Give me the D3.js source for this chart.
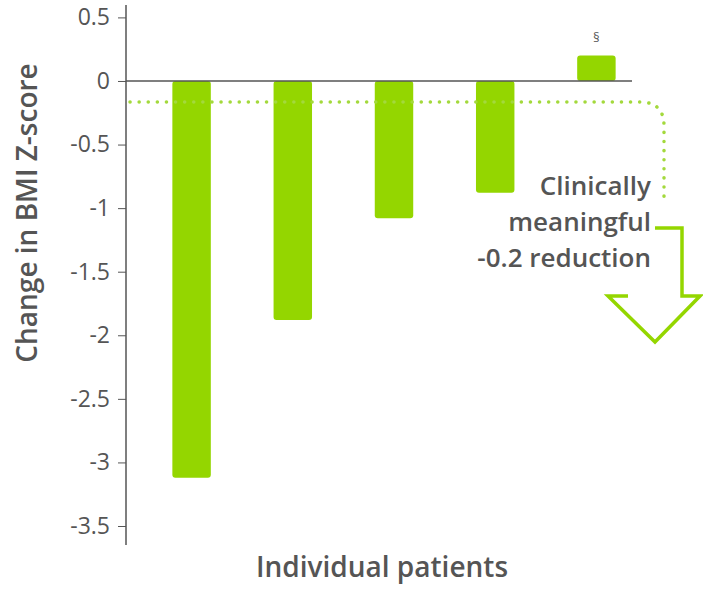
<!DOCTYPE html>
<html><head><meta charset="utf-8">
<script src="https://cdn.jsdelivr.net/npm/d3@7"></script>
<style>body{margin:0;background:#fff}text{font-family:"Open Sans",sans-serif}</style>
</head><body><svg id="c" width="703" height="590"></svg>
<script>
const patients = ["P1","P2","P3","P4","P5"];
const changes = [-3.12, -1.88, -1.08, -0.88, 0.2];
const yTicks = [0.5,0,-0.5,-1,-1.5,-2,-2.5,-3,-3.5];
const threshold = -0.165;
const noteLines = ["Clinically","meaningful","-0.2 reduction"];

const svg = d3.select("#c");
const green = "#94d600", grey = "#555";
const y = d3.scaleLinear().domain([0.5,-3.5]).range([17.4,526]);
const x = d3.scaleBand().domain(patients).range([142,646]).paddingInner(0.62).paddingOuter(0.3);

const ax = svg.append("g").attr("transform","translate(126,0)")
  .call(d3.axisLeft(y).tickValues(yTicks).tickSize(8).tickPadding(8).tickFormat(d=>d===0?"0":String(d)));
ax.select(".domain").remove();
ax.selectAll("line").attr("stroke",grey);
ax.selectAll("text").attr("font-size",23).attr("fill",grey);
svg.append("line").attr("x1",126).attr("x2",126).attr("y1",5).attr("y2",545).attr("stroke",grey).attr("stroke-width",1.5);

svg.selectAll("rect.b").data(changes).join("rect")
  .attr("x",(d,i)=>x(patients[i])).attr("width",x.bandwidth())
  .attr("y",d=>y(Math.max(0,d))).attr("height",d=>Math.abs(y(d)-y(0)))
  .attr("rx",3).attr("fill",green);

svg.append("line").attr("x1",126).attr("x2",632).attr("y1",y(0)).attr("y2",y(0)).attr("stroke",grey).attr("stroke-width",1.5);

const ty = y(threshold);
svg.append("path").attr("d",`M130,${ty} L640,${ty} Q664,${ty} 664,${ty+24} L664,205`)
  .attr("fill","none").attr("stroke","#a3d93c").attr("stroke-width",3.5).attr("stroke-dasharray","0.1 9").attr("stroke-linecap","round");

svg.append("path").attr("d","M655,228 L682,228 L682,296 L700,296 L655,342 L608,296 L628,296")
  .attr("fill","none").attr("stroke",green).attr("stroke-width",3.5).attr("stroke-linejoin","miter");

svg.append("text").attr("x",x(patients[4])+x.bandwidth()/2).attr("y",y(0.2)-14).attr("text-anchor","middle").attr("font-size",13).attr("fill",grey).text("§");

noteLines.forEach((t,i)=>svg.append("text").attr("x",651).attr("y",195+i*36).attr("text-anchor","end")
  .attr("font-size",26).attr("font-weight",600).attr("fill",grey).text(t));

svg.append("text").attr("transform","translate(37,213) rotate(-90)").attr("text-anchor","middle")
  .attr("font-size",28).attr("font-weight",600).attr("fill",grey).text("Change in BMI Z-score");
svg.append("text").attr("x",382).attr("y",577).attr("text-anchor","middle")
  .attr("font-size",28).attr("font-weight",600).attr("fill",grey).text("Individual patients");
</script></body></html>
